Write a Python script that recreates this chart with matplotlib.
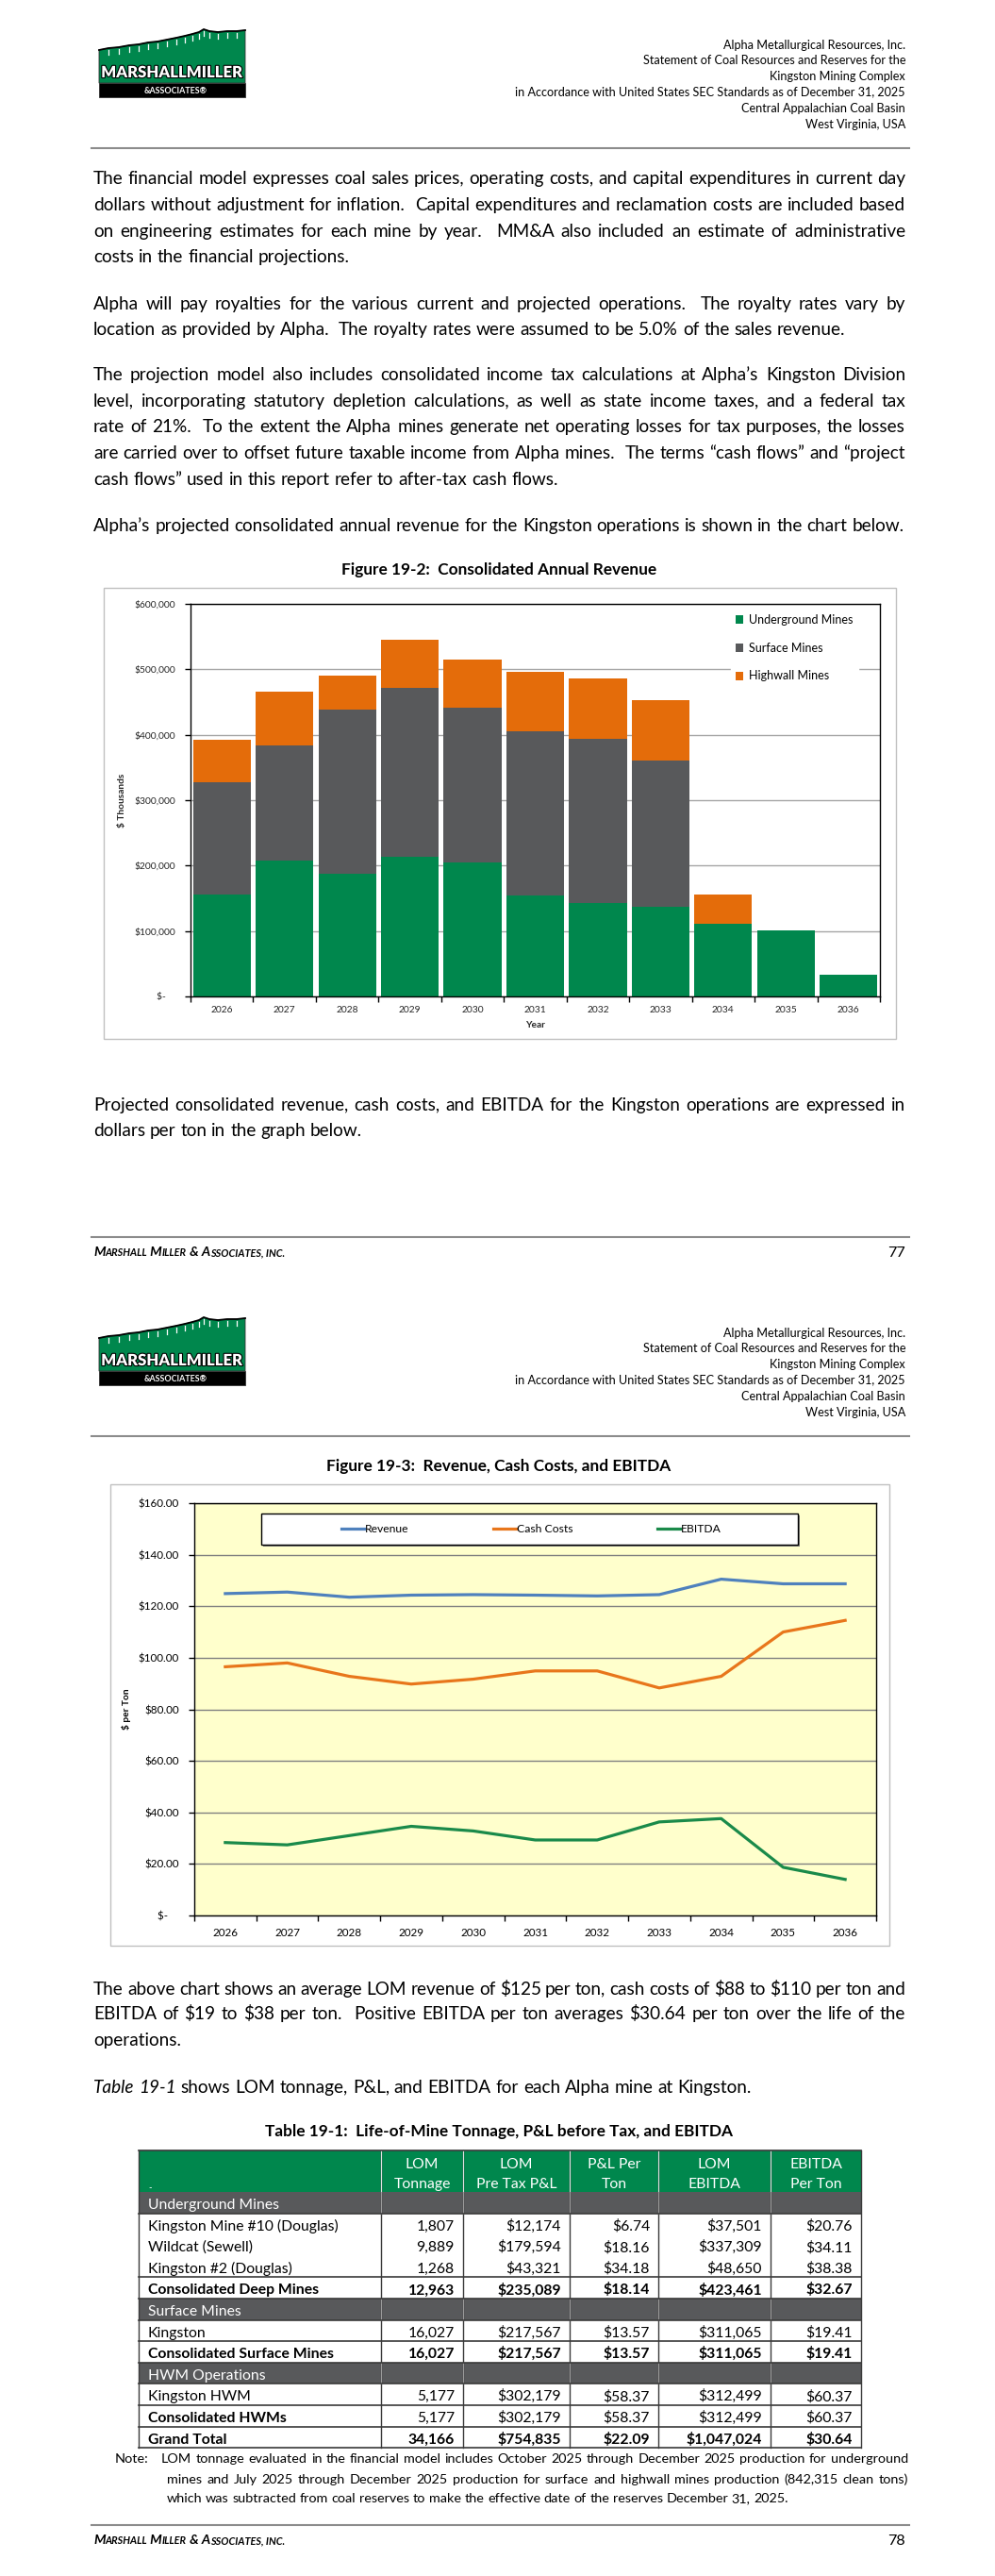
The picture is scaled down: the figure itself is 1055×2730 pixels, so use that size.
import matplotlib
matplotlib.use("Agg")
import matplotlib.pyplot as plt
import matplotlib.patheffects as pe
from matplotlib.font_manager import FontProperties
from matplotlib.patches import Rectangle, Polygon
from matplotlib.ticker import FuncFormatter
import numpy as np

FONT = "Lato"
plt.rcParams["font.family"] = FONT
plt.rcParams["text.parse_math"] = False

W, H = 1055, 2730
PAGE_H = 1365

GREEN = "#00874D"
DARK_GRAY = "#58595B"
ORANGE = "#E46C0A"
BLUE = "#4F81BD"
LINE_ORANGE = "#E8761B"
LINE_GREEN = "#1A8A4A"

# ---------------- data ----------------
years = ["2026", "2027", "2028", "2029", "2030", "2031",
         "2032", "2033", "2034", "2035", "2036"]

# Figure 19-2, revenue in $ thousands
underground = [156400, 207900, 187700, 213700, 205000, 154500,
               143400, 137100, 110700, 100600, 32700]
surface = [171300, 175100, 250700, 258400, 235800, 250200,
           250200, 223800, 0, 0, 0]
highwall = [64500, 82800, 51500, 73600, 74100, 90900,
            91900, 91400, 44700, 0, 0]

# Figure 19-3, $ per ton
revenue_line = [124.9, 125.5, 123.5, 124.3, 124.5, 124.3,
                124.0, 124.5, 130.5, 128.7, 128.7]
cash_cost_line = [96.5, 98.0, 92.8, 89.8, 91.7, 94.9,
                  94.9, 88.3, 92.8, 110.0, 114.5]
ebitda_line = [28.3, 27.4, 31.0, 34.6, 32.8, 29.3,
               29.3, 36.3, 37.6, 18.7, 14.0]

# Table 19-1
table_header = ["LOM\nTonnage", "LOM\nPre Tax P&L", "P&L Per\nTon",
                "LOM\nEBITDA", "EBITDA\nPer Ton"]
row_labels = ["Underground Mines", "Kingston Mine #10 (Douglas)",
              "Wildcat (Sewell)", "Kingston #2 (Douglas)",
              "Consolidated Deep Mines", "Surface Mines", "Kingston",
              "Consolidated Surface Mines", "HWM Operations", "Kingston HWM",
              "Consolidated HWMs", "Grand Total"]
row_kinds = ["section", "item", "item", "item", "subtotal", "section",
             "item", "subtotal", "section", "item", "label_bold", "subtotal"]
lom_tonnage = [None, 1807, 9889, 1268, 12963, None, 16027, 16027,
               None, 5177, 5177, 34166]
lom_pl = [None, 12174, 179594, 43321, 235089, None, 217567, 217567,
          None, 302179, 302179, 754835]
pl_per_ton = [None, 6.74, 18.16, 34.18, 18.14, None, 13.57, 13.57,
              None, 58.37, 58.37, 22.09]
lom_ebitda = [None, 37501, 337309, 48650, 423461, None, 311065, 311065,
              None, 312499, 312499, 1047024]
ebitda_per_ton = [None, 20.76, 34.11, 38.38, 32.67, None, 19.41, 19.41,
                  None, 60.37, 60.37, 30.64]

header_lines = ["Alpha Metallurgical Resources, Inc.",
                "Statement of Coal Resources and Reserves for the",
                "Kingston Mining Complex",
                "in Accordance with United States SEC Standards as of December 31, 2025",
                "Central Appalachian Coal Basin",
                "West Virginia, USA"]

para1 = ["The financial model expresses coal sales prices, operating costs, and capital expenditures in current day",
         "dollars without adjustment for inflation.  Capital expenditures and reclamation costs are included based",
         "on engineering estimates for each mine by year.  MM&A also included an estimate of administrative",
         "costs in the financial projections."]
para2 = ["Alpha will pay royalties for the various current and projected operations.  The royalty rates vary by",
         "location as provided by Alpha.  The royalty rates were assumed to be 5.0% of the sales revenue."]
para3 = ["The projection model also includes consolidated income tax calculations at Alpha\u2019s Kingston Division",
         "level, incorporating statutory depletion calculations, as well as state income taxes, and a federal tax",
         "rate of 21%.  To the extent the Alpha mines generate net operating losses for tax purposes, the losses",
         "are carried over to offset future taxable income from Alpha mines.  The terms \u201ccash flows\u201d and \u201cproject",
         "cash flows\u201d used in this report refer to after-tax cash flows."]
para4 = ["Alpha\u2019s projected consolidated annual revenue for the Kingston operations is shown in the chart below."]
para5 = ["Projected consolidated revenue, cash costs, and EBITDA for the Kingston operations are expressed in",
         "dollars per ton in the graph below."]
para6 = ["The above chart shows an average LOM revenue of $125 per ton, cash costs of $88 to $110 per ton and",
         "EBITDA of $19 to $38 per ton.  Positive EBITDA per ton averages $30.64 per ton over the life of the",
         "operations."]
note_lines = ["LOM tonnage evaluated in the financial model includes October 2025 through December 2025 production for underground",
              "mines and July 2025 through December 2025 production for surface and highwall mines production (842,315 clean tons)",
              "which was subtracted from coal reserves to make the effective date of the reserves December 31, 2025."]

# ---------------- page canvas ----------------
fig = plt.figure(figsize=(W / 100, H / 100), dpi=100)
renderer = fig.canvas.get_renderer()
page = fig.add_axes([0, 0, 1, 1])
page.set_xlim(0, W)
page.set_ylim(H, 0)
page.set_autoscale_on(False)
page.axis("off")


def tw(s, size, weight="normal", style="normal"):
    fp = FontProperties(family=FONT, size=size, weight=weight, style=style)
    w, h, d = renderer.get_text_width_height_descent(s, fp, ismath=False)
    return w


def fit(s, target, weight="normal", style="normal"):
    return 10 * target / tw(s, 10, weight, style)


def base(yc, size):
    return yc + 0.36 * size * 100 / 72


def space_w(size):
    return tw("a a", size) - tw("aa", size)


def put_line(tokens, x0, x1, yc, size, justify):
    widths = [tw(t, size, "normal", st) if t else 0 for t, st in tokens]
    if justify and len(tokens) > 1:
        gap = (x1 - x0 - sum(widths)) / (len(tokens) - 1)
    else:
        gap = space_w(size)
    x = x0
    for (t, st), w in zip(tokens, widths):
        if t:
            page.text(x, base(yc, size), t, fontsize=size, style=st,
                      va="baseline", ha="left", color="black")
        x += w + gap


def paragraph(lines, x0, x1, ys, size):
    for i, (line, yc) in enumerate(zip(lines, ys)):
        toks = [(w, "normal") for w in line.split(" ")]
        put_line(toks, x0, x1, yc, size, justify=(i < len(lines) - 1))


def ax_rect(l, t, r, b):
    return [l / W, 1 - b / H, (r - l) / W, (b - t) / H]


LEFT, RIGHT = 99, 960
body = fit(para4[0], RIGHT - LEFT)
head_size = fit(header_lines[3], 412)
title_size = fit("Table 19-1:  Life-of-Mine Tonnage, P&L before Tax, and EBITDA", 497, "bold")


def logo(dy):
    ridge = [(105, 53), (115, 51), (126, 50), (137, 48), (147, 47), (157, 45),
             (167, 44), (177, 42), (187, 40), (196, 38), (204, 36), (211, 34),
             (216, 31), (222, 33), (231, 34), (241, 33), (251, 33), (260, 32)]
    poly = ridge + [(260, 88), (105, 88)]
    page.add_patch(Polygon([(x, y + dy) for x, y in poly], closed=True,
                           facecolor=GREEN, edgecolor="#333333", lw=0.6))
    page.plot([x for x, y in ridge], [y + dy for x, y in ridge],
              color="black", lw=1.3)
    for xa, ya in ridge[1:-1]:
        page.plot([xa, xa], [ya + dy + 2, ya + dy + 7], color="white", lw=0.9)
    page.add_patch(Rectangle((105, 88 + dy), 155, 15, facecolor="black",
                             edgecolor="#333333", lw=0.6))
    ls = fit("MARSHALLMILLER", 150, "heavy")
    page.text(182, base(76 + dy, ls), "MARSHALLMILLER", color="white",
              fontsize=ls, weight="heavy", ha="center", va="baseline",
              path_effects=[pe.withStroke(linewidth=1.6, foreground="black")])
    page.text(186, base(95.5 + dy, 6.4), "&ASSOCIATES\u00ae", color="white",
              fontsize=6.4, weight="bold", ha="center", va="baseline")


def header(dy):
    logo(dy)
    for line, yc in zip(header_lines, [47, 63, 80, 97, 114, 131]):
        page.text(960, base(yc + dy, head_size), line, fontsize=head_size,
                  ha="right", va="baseline", color="black")
    page.plot([97, 964], [157 + dy, 157 + dy], color="#8c8c8c", lw=1.5)


def footer(dy, num):
    page.plot([97, 964], [1311 + dy, 1311 + dy], color="#8c8c8c", lw=1.5)
    parts = [("M", True), ("ARSHALL", False), (" M", True), ("ILLER", False),
             (" & A", True), ("SSOCIATES, INC.", False)]
    total = sum(tw(s, 10 if big else 7.6, "bold", "italic") for s, big in parts)
    size = 10 * 203 / total
    x = 99
    for s, big in parts:
        fs = size if big else size * 0.76
        page.text(x, base(1326 + dy, size), s, fontsize=fs, weight="bold",
                  style="italic", va="baseline", ha="left", color="black")
        x += tw(s, fs, "bold", "italic")
    page.text(960, base(1326 + dy, body * 0.85), num, fontsize=body * 0.85,
              ha="right", va="baseline", color="black")


# ---------------- page 1 ----------------
header(0)
paragraph(para1, LEFT, RIGHT, [188, 216.5, 244, 271.5], body)
paragraph(para2, LEFT, RIGHT, [321.5, 348.5], body)
paragraph(para3, LEFT, RIGHT, [396.5, 424, 451.5, 479.5, 507], body)
paragraph(para4, LEFT, RIGHT, [556.5], body)
page.text(529, base(603, title_size), "Figure 19-2:  Consolidated Annual Revenue",
          fontsize=title_size, weight="bold", ha="center", va="baseline")
page.add_patch(Rectangle((110, 623), 840, 478, facecolor="white",
                         edgecolor="#c0c0c0", lw=1))

ax1 = fig.add_axes(ax_rect(202, 640, 933, 1056))
x = np.arange(len(years))
bw = 0.92
b1 = ax1.bar(x, underground, width=bw, color=GREEN, label="Underground Mines", zorder=2)
b2 = ax1.bar(x, surface, width=bw, bottom=underground, color=DARK_GRAY,
             label="Surface Mines", zorder=2)
b3 = ax1.bar(x, highwall, width=bw, bottom=np.add(underground, surface),
             color=ORANGE, label="Highwall Mines", zorder=2)
ax1.set_xlim(-0.5, len(years) - 0.5)
ax1.set_ylim(0, 600000)
ax1.set_yticks(np.arange(0, 600001, 100000))
ax1.yaxis.set_major_formatter(FuncFormatter(
    lambda v, p: "$-    " if v == 0 else f"${v:,.0f}"))
ax1.grid(axis="y", color="#a6a6a6", lw=1)
ax1.set_axisbelow(True)
ax1.set_xticks(x)
ax1.set_xticklabels(years)
ax1.set_xticks(np.arange(-0.5, len(years), 1), minor=True)
tick1 = fit("2026", 24)
ax1.tick_params(axis="x", which="major", length=0, pad=7.2,
                labelsize=tick1, labelcolor="#262626")
ax1.tick_params(axis="x", which="minor", length=4, direction="out", width=1)
ax1.tick_params(axis="y", length=4, direction="out", width=1, pad=7.5,
                labelsize=tick1, labelcolor="#262626")
for s in ax1.spines.values():
    s.set_color("black")
    s.set_linewidth(1)
lab1 = fit("Year", 21, "bold")
ax1.set_xlabel("Year", fontsize=lab1, weight="bold", color="#262626")
ax1.xaxis.set_label_coords(0.5, -(1082 - 1056) / 416)
ax1.set_ylabel("$ Thousands", fontsize=lab1, weight="bold", color="#262626")
ax1.yaxis.set_label_coords((134 - 202) / 731, 0.5)

leg1 = fit("Underground Mines", 111)
fs1 = leg1 * 100 / 72
ax1.legend(handles=[b1, b2, b3], loc="upper left",
           bbox_to_anchor=((780 - 0.4 * fs1 - 202) / 731,
                           (1056 - (657 - 0.4 * fs1 - 0.47 * fs1)) / 416),
           borderaxespad=0, borderpad=0.4, handlelength=0.6, handleheight=0.75,
           handletextpad=0.55, labelspacing=(29.5 - 0.94 * fs1) / fs1,
           fontsize=leg1, frameon=True, facecolor="white", edgecolor="white",
           framealpha=1, fancybox=False)

paragraph(para5, LEFT, RIGHT, [1170, 1197], body)
footer(0, "77")

# ---------------- page 2 ----------------
header(PAGE_H)
page.text(529, base(1553, title_size), "Figure 19-3:  Revenue, Cash Costs, and EBITDA",
          fontsize=title_size, weight="bold", ha="center", va="baseline")
page.add_patch(Rectangle((117, 1573), 826, 489, facecolor="white",
                         edgecolor="#c0c0c0", lw=1))

ax2 = fig.add_axes(ax_rect(206, 1593, 929, 2030))
ax2.set_facecolor("#FFFFCC")
ax2.plot(x, revenue_line, color=BLUE, lw=2.3, label="Revenue", zorder=3)
ax2.plot(x, cash_cost_line, color=LINE_ORANGE, lw=2.3, label="Cash Costs", zorder=3)
ax2.plot(x, ebitda_line, color=LINE_GREEN, lw=2.3, label="EBITDA", zorder=3)
ax2.set_xlim(-0.5, len(years) - 0.5)
ax2.set_ylim(0, 160)
ax2.set_yticks(np.arange(0, 161, 20))
ax2.yaxis.set_major_formatter(FuncFormatter(
    lambda v, p: "$-    " if v == 0 else f"${v:,.2f}"))
ax2.grid(axis="y", color="#808080", lw=1)
ax2.set_axisbelow(True)
ax2.set_xticks(x)
ax2.set_xticklabels(years)
ax2.set_xticks(np.arange(-0.5, len(years), 1), minor=True)
tick2 = fit("2026", 27)
ax2.tick_params(axis="x", which="major", length=0, pad=9.5,
                labelsize=tick2, labelcolor="black")
ax2.tick_params(axis="x", which="minor", length=4, direction="out", width=1)
ax2.tick_params(axis="y", length=4, direction="out", width=1, pad=7.5,
                labelsize=tick2, labelcolor="black")
for s in ax2.spines.values():
    s.set_color("black")
    s.set_linewidth(1)
ax2.set_ylabel("$ per Ton", fontsize=fit("Year", 21, "bold"), weight="bold")
ax2.yaxis.set_label_coords((139 - 206) / 723, 0.5)

bx0, bx1, by0, by1 = 277, 846, 1604, 1637
ax2.add_patch(Rectangle(((bx0 - 206 + 2) / 723, (2030 - by1 - 2) / 437),
                        (bx1 - bx0) / 723, (by1 - by0) / 437,
                        transform=ax2.transAxes, facecolor="#7f7f7f",
                        edgecolor="none", zorder=4))
ax2.add_patch(Rectangle(((bx0 - 206) / 723, (2030 - by1) / 437),
                        (bx1 - bx0) / 723, (by1 - by0) / 437,
                        transform=ax2.transAxes, facecolor="white",
                        edgecolor="black", lw=1, zorder=4.5))
leg2 = fit("Cash Costs", 59)
fs2 = leg2 * 100 / 72
ax2.legend(loc="center", ncol=3,
           bbox_to_anchor=(((bx0 + bx1) / 2 + 2 - 206) / 723,
                           (2030 - (by0 + by1) / 2) / 437),
           frameon=False, fontsize=leg2, handlelength=24 / fs2,
           handletextpad=1.5 / fs2, columnspacing=89 / fs2, borderpad=0)

paragraph(para6, LEFT, RIGHT, [2107, 2133.5, 2161.5], body)
toks = [("Table", "italic"), ("19-1", "italic")] + \
    [(w, "normal") for w in "shows LOM tonnage, P&L, and EBITDA for each Alpha mine at Kingston.".split(" ")]
put_line(toks, LEFT, RIGHT, 2211, body, justify=False)
page.text(529, base(2258, title_size),
          "Table 19-1:  Life-of-Mine Tonnage, P&L before Tax, and EBITDA",
          fontsize=title_size, weight="bold", ha="center", va="baseline")

# ---------------- table ----------------
col_x = [147, 404, 491, 604, 698, 817, 913]
t_top, h_bot = 2279, 2323
row_h = 22.6
n = len(row_labels)
row_tops = [h_bot + i * row_h for i in range(n)]
t_bot = h_bot + n * row_h
tsize = fit("Kingston Mine #10 (Douglas)", 201)

page.add_patch(Rectangle((col_x[0], t_top), col_x[-1] - col_x[0], h_bot - t_top,
                         facecolor=GREEN, edgecolor="none"))
for i, kind in enumerate(row_kinds):
    if kind == "section":
        page.add_patch(Rectangle((col_x[0], row_tops[i]), col_x[-1] - col_x[0],
                                 row_h, facecolor=DARK_GRAY, edgecolor="none"))
for cx in col_x:
    page.plot([cx, cx], [t_top, t_bot], color="#3a3a3a", lw=1)
for cx in col_x[1:-1]:
    page.plot([cx, cx], [t_top, h_bot], color="#e0e0e0", lw=0.8)
    for i, kind in enumerate(row_kinds):
        if kind == "section":
            page.plot([cx, cx], [row_tops[i], row_tops[i] + row_h],
                      color="#9a9a9a", lw=0.8)
page.plot([col_x[0], col_x[-1]], [t_top, t_top], color="#3a3a3a", lw=1.2)
page.plot([col_x[0], col_x[-1]], [t_bot, t_bot], color="#3a3a3a", lw=1.2)
for i in range(1, n):
    if row_kinds[i] == "item" and row_kinds[i - 1] == "item":
        continue
    page.plot([col_x[0], col_x[-1]], [row_tops[i], row_tops[i]],
              color="#3a3a3a", lw=1.2)

for j, head in enumerate(table_header):
    cx = (col_x[j + 1] + col_x[j + 2]) / 2
    for k, part in enumerate(head.split("\n")):
        page.text(cx, base(2292 + 21 * k, tsize), part, fontsize=tsize,
                  color="white", ha="center", va="baseline")
page.text(157, base(2318, tsize * 0.6), "-", fontsize=tsize * 0.6,
          color="white", ha="left", va="baseline")

for i, (label, kind) in enumerate(zip(row_labels, row_kinds)):
    yc = row_tops[i] + row_h / 2 + 1
    if kind == "section":
        page.text(157, base(yc, tsize), label, fontsize=tsize, color="white",
                  ha="left", va="baseline")
        continue
    lw_label = "bold" if kind in ("subtotal", "label_bold") else "normal"
    lw_vals = "bold" if kind == "subtotal" else "normal"
    page.text(157, base(yc, tsize), label, fontsize=tsize, weight=lw_label,
              ha="left", va="baseline")
    vals = [f"{lom_tonnage[i]:,}", f"${lom_pl[i]:,}", f"${pl_per_ton[i]:.2f}",
            f"${lom_ebitda[i]:,}", f"${ebitda_per_ton[i]:.2f}"]
    for j, v in enumerate(vals):
        page.text(col_x[j + 2] - 9, base(yc, tsize), v, fontsize=tsize,
                  weight=lw_vals, ha="right", va="baseline")

note_size = fit(note_lines[2], 659)
page.text(122, base(2605, note_size), "Note:", fontsize=note_size,
          ha="left", va="baseline")
put_line([(w, "normal") for w in note_lines[0].split(" ")], 171, 963, 2605, note_size, True)
put_line([(w, "normal") for w in note_lines[1].split(" ")], 177, 963, 2627, note_size, True)
put_line([(w, "normal") for w in note_lines[2].split(" ")], 177, 963, 2647, note_size, False)

footer(PAGE_H, "78")

fig.savefig("out.png", dpi=100)
